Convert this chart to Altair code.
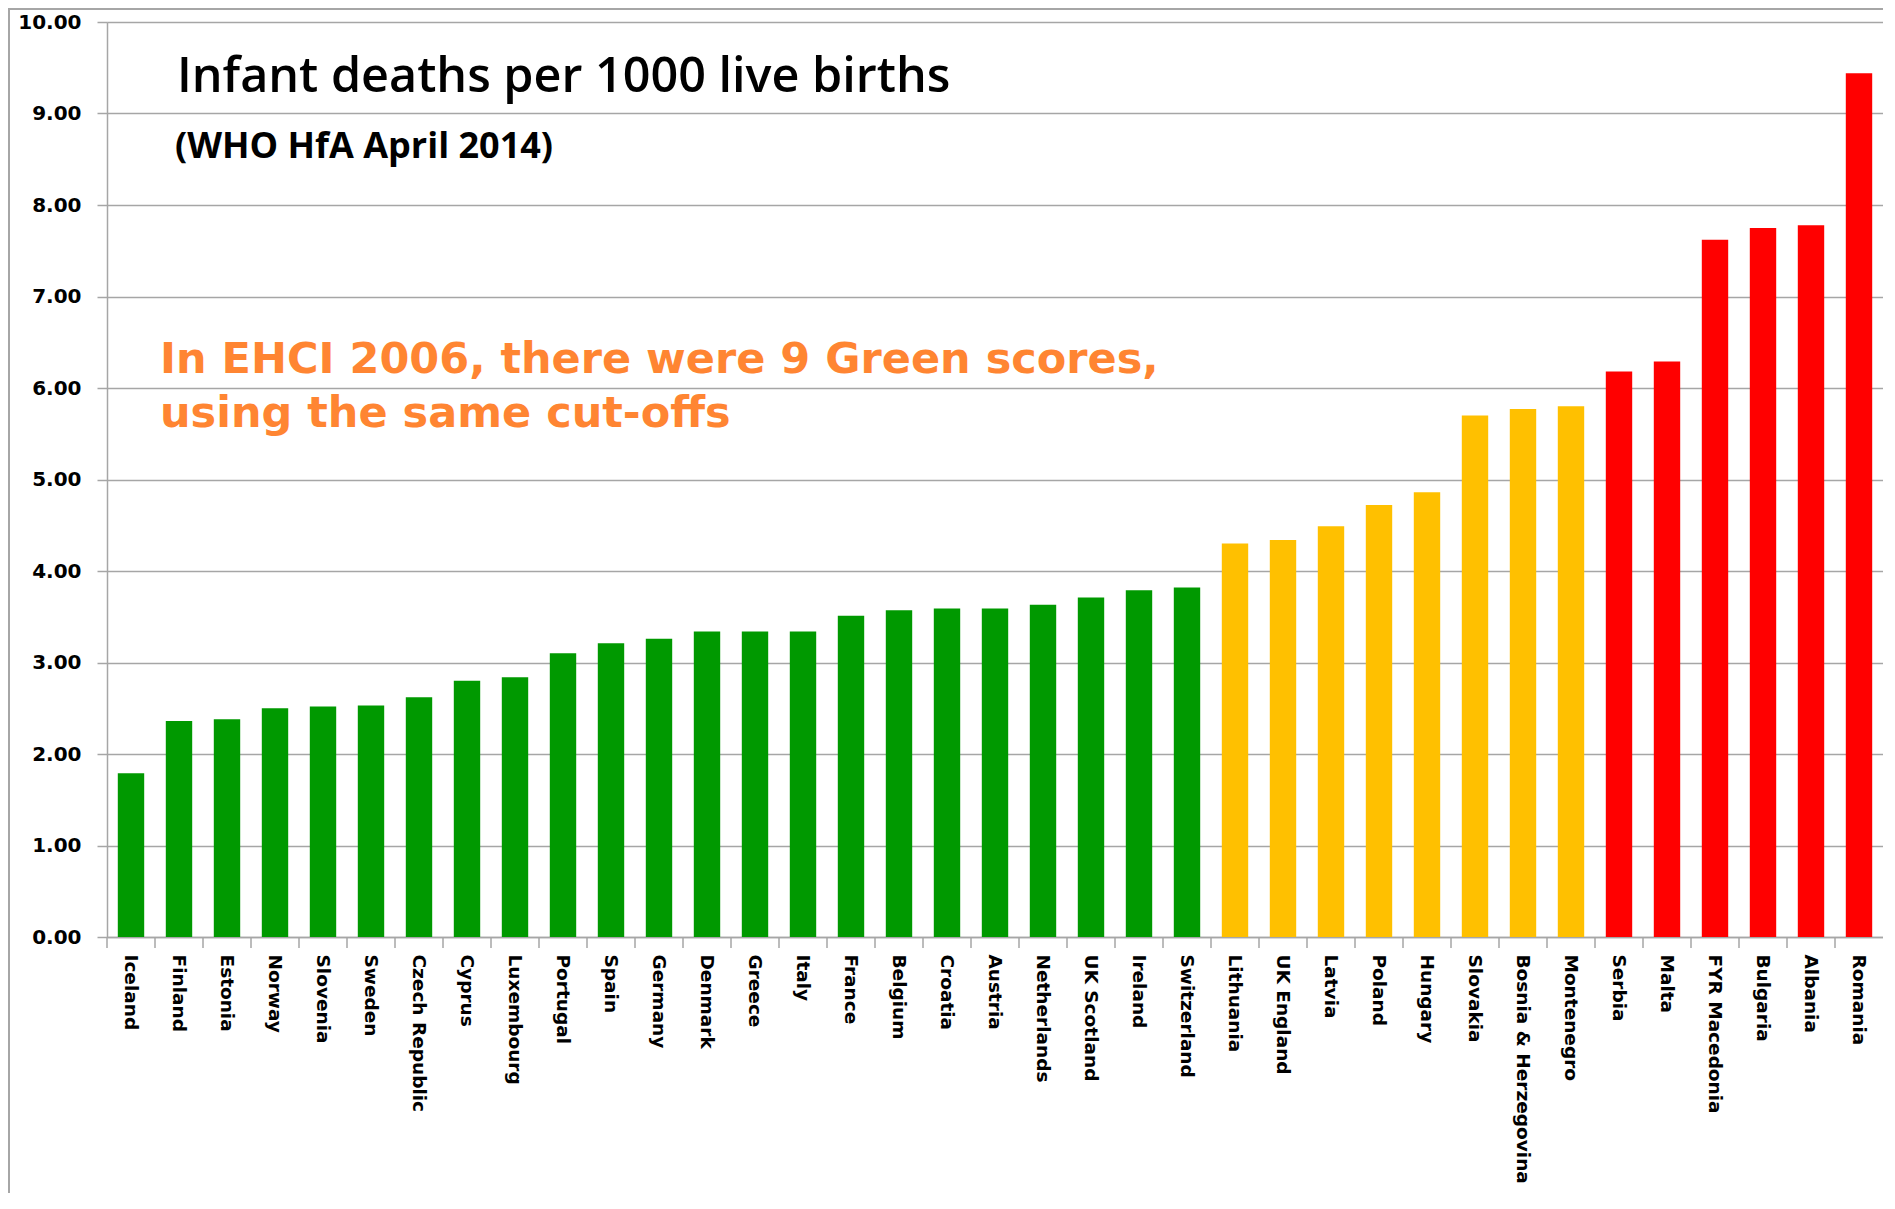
import altair as alt
import pandas as pd

countries = ["Iceland", "Finland", "Estonia", "Norway", "Slovenia", "Sweden",
             "Czech Republic", "Cyprus", "Luxembourg", "Portugal", "Spain",
             "Germany", "Denmark", "Greece", "Italy", "France", "Belgium",
             "Croatia", "Austria", "Netherlands", "UK Scotland", "Ireland",
             "Switzerland", "Lithuania", "UK England", "Latvia", "Poland",
             "Hungary", "Slovakia", "Bosnia & Herzegovina", "Montenegro",
             "Serbia", "Malta", "FYR Macedonia", "Bulgaria", "Albania", "Romania"]
values = [1.79, 2.36, 2.38, 2.50, 2.52, 2.53, 2.62, 2.80, 2.84, 3.10, 3.21,
          3.26, 3.34, 3.34, 3.34, 3.51, 3.57, 3.59, 3.59, 3.63, 3.71, 3.79,
          3.82, 4.30, 4.34, 4.49, 4.72, 4.86, 5.70, 5.77, 5.80,
          6.18, 6.29, 7.62, 7.75, 7.78, 9.44]
groups = ["Green"] * 23 + ["Amber"] * 8 + ["Red"] * 6
group_names = ["Green", "Amber", "Red"]
group_colors = ["#009900", "#FFC000", "#FF0000"]
y_ticks = [0, 1, 2, 3, 4, 5, 6, 7, 8, 9, 10]

title_text = "Infant deaths per 1000 live births"
subtitle_text = "(WHO HfA April 2014)"
note_line1 = "In EHCI 2006, there were 9 Green scores,"
note_line2 = "using the same cut-offs"

W, H = 1776, 915
PAD_INNER = 0.45
STEP = W / len(countries)
GRAY = "#A6A6A6"

df = pd.DataFrame({"country": countries, "value": values, "group": groups})

bars = alt.Chart(df).mark_bar().encode(
    x=alt.X("country:N", sort=None, title=None,
            scale=alt.Scale(paddingInner=PAD_INNER, paddingOuter=PAD_INNER / 2),
            axis=alt.Axis(labelAngle=90, labelAlign="left", labelBaseline="middle",
                          labelFont="DejaVu Sans", labelFontWeight="bold",
                          labelFontSize=18.5, labelColor="#000000", labelPadding=17,
                          ticks=False, tickSize=0, labelOverlap=False, labelLimit=400,
                          domainColor=GRAY, domainWidth=1.5, grid=False)),
    y=alt.Y("value:Q", title=None,
            scale=alt.Scale(domain=[0, 10], nice=False, zero=True),
            axis=alt.Axis(values=y_ticks, format=".2f", grid=True,
                          gridColor=GRAY, gridWidth=1.5,
                          domainColor=GRAY, domainWidth=1.5,
                          tickColor=GRAY, tickWidth=1.5, tickSize=10,
                          labelPadding=16, labelFont="DejaVu Sans",
                          labelFontWeight="bold", labelFontSize=20,
                          labelColor="#000000")),
    color=alt.Color("group:N", scale=alt.Scale(domain=group_names, range=group_colors),
                    legend=None),
)

xticks = alt.Chart(df).mark_rule(color=GRAY, strokeWidth=1.5,
                                 xOffset=-STEP * PAD_INNER / 2).encode(
    x=alt.X("country:N", sort=None, bandPosition=0),
    y=alt.value(H),
    y2=alt.value(H + 11),
)


def text_layer(txt, x, y, font, size, weight, color):
    return alt.Chart(pd.DataFrame({"t": [txt]})).mark_text(
        align="left", baseline="alphabetic", font=font, fontSize=size,
        fontWeight=weight, color=color).encode(
        text="t:N", x=alt.value(x), y=alt.value(y))


title = text_layer(title_text, 70, 70, "Open Sans", 48.5, 600, "#000000")
subtitle = text_layer(subtitle_text, 68, 136, "Open Sans", 36, "bold", "#000000")
note1 = text_layer(note_line1, 53, 351, "DejaVu Sans", 43, "bold", "#FF8532")
note2 = text_layer(note_line2, 53, 405, "DejaVu Sans", 43, "bold", "#FF8532")

frame_df = pd.DataFrame({"k": [0]})
frame_left = alt.Chart(frame_df).mark_rule(color=GRAY, strokeWidth=2).encode(
    x=alt.value(-98), y=alt.value(-14), y2=alt.value(H + 256))
frame_top = alt.Chart(frame_df).mark_rule(color=GRAY, strokeWidth=2).encode(
    x=alt.value(-99), x2=alt.value(W), y=alt.value(-13))

chart = alt.layer(bars, xticks, title, subtitle, note1, note2, frame_left, frame_top).properties(
    width=W, height=H,
    autosize=alt.AutoSizeParams(type="none"),
    padding={"left": 99, "top": 14, "right": 0, "bottom": 256},
).configure_view(stroke=None).configure(background="#FFFFFF")

chart.save("out.html", embed_options={"renderer": "svg", "actions": False})
